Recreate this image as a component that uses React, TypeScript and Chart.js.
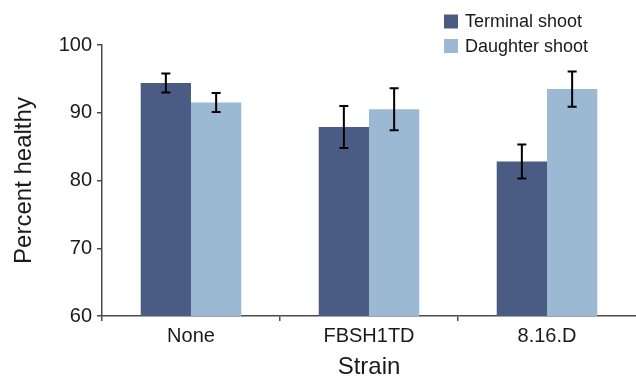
import React, { useEffect, useRef } from "react";
import { Chart, registerables } from "chart.js";

Chart.register(...registerables);

const categories = ["None", "FBSH1TD", "8.16.D"];
const seriesNames = ["Terminal shoot", "Daughter shoot"];
const terminalValues = [94.4, 87.9, 82.8];
const terminalErrors = [1.4, 3.1, 2.5];
const daughterValues = [91.5, 90.5, 93.5];
const daughterErrors = [1.4, 3.1, 2.6];
const seriesColors = ["#4b5c84", "#9cb9d3"];
const yTicks = [60, 70, 80, 90, 100];

const FONT = "'Liberation Sans', Arial, Helvetica, sans-serif";
const TEXT = "#1a1a1a";
const AXIS = "#4a4a4a";

const errorBarPlugin = {
  id: "errorBars",
  afterDatasetsDraw(chart: any) {
    const ctx = chart.ctx;
    const yScale = chart.scales.y;
    const errs = [terminalErrors, daughterErrors];
    ctx.save();
    ctx.strokeStyle = "#000";
    ctx.lineWidth = 2;
    chart.data.datasets.forEach((ds: any, di: number) => {
      const meta = chart.getDatasetMeta(di);
      meta.data.forEach((el: any, i: number) => {
        const v = ds.data[i];
        const e = errs[di][i];
        const x = el.x;
        const yt = yScale.getPixelForValue(v + e);
        const yb = yScale.getPixelForValue(v - e);
        const cap = 4.5;
        ctx.beginPath();
        ctx.moveTo(x, yt);
        ctx.lineTo(x, yb);
        ctx.moveTo(x - cap, yt);
        ctx.lineTo(x + cap, yt);
        ctx.moveTo(x - cap, yb);
        ctx.lineTo(x + cap, yb);
        ctx.stroke();
      });
    });
    ctx.restore();
  },
};

const legendPlugin = {
  id: "stackedLegend",
  afterDraw(chart: any) {
    const ctx = chart.ctx;
    const x0 = chart.width - 192;
    const y0 = 21.5;
    const rowGap = 24.5;
    ctx.save();
    ctx.font = `18px ${FONT}`;
    ctx.textBaseline = "middle";
    ctx.textAlign = "left";
    seriesNames.forEach((name, i) => {
      const cy = y0 + i * rowGap;
      ctx.fillStyle = seriesColors[i];
      ctx.fillRect(x0, cy - 7, 14, 14);
      ctx.fillStyle = TEXT;
      ctx.fillText(name, x0 + 21, cy + 1);
    });
    ctx.restore();
  },
};

export default function App() {
  const ref = useRef<HTMLCanvasElement | null>(null);
  useEffect(() => {
    if (!ref.current) return;
    const chart = new Chart(ref.current, {
      type: "bar",
      data: {
        labels: categories,
        datasets: [
          {
            label: seriesNames[0],
            data: terminalValues,
            backgroundColor: seriesColors[0],
            barPercentage: 1,
            categoryPercentage: 0.565,
          },
          {
            label: seriesNames[1],
            data: daughterValues,
            backgroundColor: seriesColors[1],
            barPercentage: 1,
            categoryPercentage: 0.565,
          },
        ],
      },
      options: {
        animation: false,
        responsive: true,
        maintainAspectRatio: false,
        layout: { padding: { top: 45, right: 0, left: 0, bottom: 0 } },
        plugins: {
          legend: { display: false },
          tooltip: { enabled: false },
        },
        scales: {
          x: {
            offset: true,
            grid: {
              offset: true,
              drawOnChartArea: false,
              drawTicks: true,
              tickLength: 5,
              color: (c: any) => (c.tick ? AXIS : "rgba(0,0,0,0)"),
              lineWidth: 1.5,
            },
            border: { display: true, color: AXIS, width: 1.5 },
            ticks: {
              color: TEXT,
              font: { family: FONT, size: 20 },
              padding: 3,
            },
            title: {
              display: true,
              text: "Strain",
              color: TEXT,
              font: { family: FONT, size: 24, lineHeight: 1 },
              padding: { top: 0, bottom: 1 },
            },
            afterFit(scale: any) {
              scale.height = 64;
            },
          },
          y: {
            min: 60,
            max: 100,
            afterBuildTicks(scale: any) {
              scale.ticks = yTicks.map((v) => ({ value: v }));
            },
            grid: {
              drawOnChartArea: false,
              drawTicks: true,
              tickLength: 5,
              color: AXIS,
              lineWidth: 1.5,
            },
            border: { display: true, color: AXIS, width: 1.5 },
            ticks: {
              color: TEXT,
              font: { family: FONT, size: 20 },
              padding: 5,
            },
            title: {
              display: true,
              text: "Percent healthy",
              color: TEXT,
              font: { family: FONT, size: 24, lineHeight: 1 },
              padding: { top: 12, bottom: 0 },
            },
            afterFit(scale: any) {
              scale.width = 102;
            },
          },
        },
      } as any,
      plugins: [errorBarPlugin, legendPlugin],
    });
    return () => chart.destroy();
  }, []);
  return (
    <div style={{ position: "absolute", left: 0, top: 0, width: 636, height: 380 }}>
      <canvas ref={ref} />
    </div>
  );
}
